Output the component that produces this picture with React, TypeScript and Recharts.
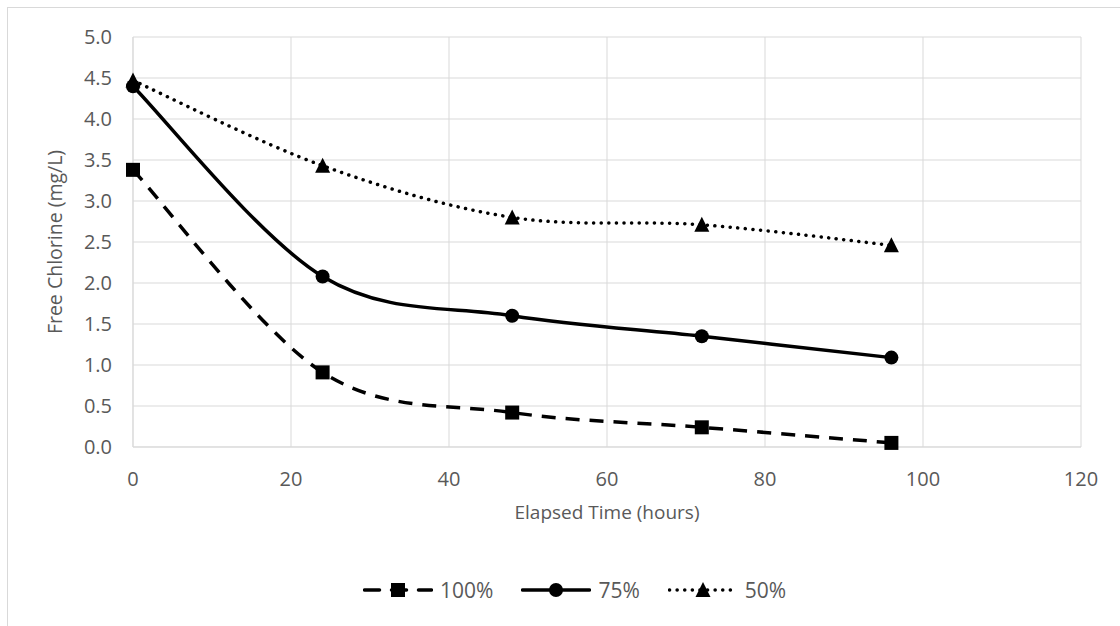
import { LineChart, Line, XAxis, YAxis, CartesianGrid } from 'recharts';

// ---------------- DATA ----------------
const hours = [0, 24, 48, 72, 96];
const chlorine100 = [3.38, 0.91, 0.42, 0.24, 0.05];
const chlorine75 = [4.4, 2.08, 1.6, 1.35, 1.09];
const chlorine50 = [4.47, 3.43, 2.8, 2.71, 2.46];
const xTicks = [0, 20, 40, 60, 80, 100, 120];
const yTicks = [0, 0.5, 1, 1.5, 2, 2.5, 3, 3.5, 4, 4.5, 5];

const rows = hours.map((t, i) => ({
  t,
  p100: chlorine100[i],
  p75: chlorine75[i],
  p50: chlorine50[i],
}));

const FONT = '"Open Sans", sans-serif';
const TEXT = '#595959';
const GRID = '#d9d9d9';

// Excel style smoothing: cubic bezier with Catmull-Rom tangents (1/6)
function excelSmooth(context: any) {
  let pts: number[][] = [];
  return {
    areaStart() {},
    areaEnd() {},
    lineStart() {
      pts = [];
    },
    point(x: number, y: number) {
      pts.push([+x, +y]);
    },
    lineEnd() {
      const n = pts.length;
      if (!n) return;
      context.moveTo(pts[0][0], pts[0][1]);
      for (let i = 0; i < n - 1; i++) {
        const p0 = pts[Math.max(i - 1, 0)];
        const p1 = pts[i];
        const p2 = pts[i + 1];
        const p3 = pts[Math.min(i + 2, n - 1)];
        context.bezierCurveTo(
          p1[0] + (p2[0] - p0[0]) / 6,
          p1[1] + (p2[1] - p0[1]) / 6,
          p2[0] - (p3[0] - p1[0]) / 6,
          p2[1] - (p3[1] - p1[1]) / 6,
          p2[0],
          p2[1],
        );
      }
    },
  };
}

// ---------------- MARKERS ----------------
const SquareDot = ({ cx, cy }: any) => <rect x={cx - 7} y={cy - 7} width={14} height={14} fill="#000" />;
const CircleDot = ({ cx, cy }: any) => <circle cx={cx} cy={cy} r={7} fill="#000" />;
const TriangleDot = ({ cx, cy }: any) => (
  <path d={`M${cx},${cy - 8}L${cx + 7.5},${cy + 7}L${cx - 7.5},${cy + 7}Z`} fill="#000" />
);

const DASH = '14 10';
const DOTS = '0.1 7.5';

const legendItems = [
  { name: '100%', dash: DASH, marker: 'square' },
  { name: '75%', dash: undefined, marker: 'circle' },
  { name: '50%', dash: DOTS, marker: 'triangle' },
];

function LegendSwatch({ dash, marker }: { dash?: string; marker: string }) {
  return (
    <svg width={70} height={20} style={{ display: 'block' }}>
      <line
        x1={1.5}
        y1={10}
        x2={68.5}
        y2={10}
        stroke="#000"
        strokeWidth={3.5}
        strokeDasharray={dash === DASH ? '15 12' : dash}
        strokeLinecap="round"
      />
      {marker === 'square' && <SquareDot cx={35} cy={10} />}
      {marker === 'circle' && <CircleDot cx={35} cy={10} />}
      {marker === 'triangle' && <TriangleDot cx={35} cy={10} />}
    </svg>
  );
}

export default function App() {
  return (
    <div
      style={{
        position: 'fixed',
        left: 0,
        top: 0,
        width: 1120,
        height: 626,
        overflow: 'hidden',
        background: '#fff',
        fontFamily: FONT,
      }}>
      {/* chart frame, cropped on the right and bottom */}
      <div
        style={{
          position: 'absolute',
          left: 7,
          top: 7,
          width: 1200,
          height: 700,
          border: `1px solid ${GRID}`,
        }}
      />
      <div style={{ position: 'absolute', left: 0, top: 0 }}>
        <LineChart width={1120} height={626} data={rows} margin={{ top: 37, right: 39, bottom: 99, left: 0 }}>
          <CartesianGrid stroke={GRID} strokeWidth={1} />
          <XAxis
            type="number"
            dataKey="t"
            domain={[0, 120]}
            ticks={xTicks}
            interval={0}
            height={80}
            tickSize={0}
            tickMargin={25}
            axisLine={{ stroke: GRID }}
            tick={{ fill: TEXT, fontSize: 20, fontFamily: FONT }}
            label={{
              value: 'Elapsed Time (hours)',
              position: 'insideBottom',
              offset: 8,
              fill: TEXT,
              fontSize: 19,
              fontFamily: FONT,
            }}
          />
          <YAxis
            type="number"
            domain={[0, 5]}
            ticks={yTicks}
            interval={0}
            width={133}
            tickSize={0}
            tickMargin={21}
            axisLine={{ stroke: GRID }}
            tick={{ fill: TEXT, fontSize: 20, fontFamily: FONT }}
            tickFormatter={(v: number) => v.toFixed(1)}
            label={{
              content: ({ viewBox }: any) => {
                const cx = 62;
                const cy = viewBox.y + viewBox.height / 2;
                return (
                  <text
                    x={cx}
                    y={cy}
                    transform={`rotate(-90 ${cx} ${cy})`}
                    textAnchor="middle"
                    fill={TEXT}
                    fontSize={19.5}
                    fontFamily={FONT}>
                    Free Chlorine (mg/L)
                  </text>
                );
              },
            }}
          />
          <Line
            type={excelSmooth as any}
            dataKey="p100"
            stroke="#000"
            strokeWidth={3.5}
            strokeDasharray={DASH}
            dot={<SquareDot />}
            activeDot={false}
            isAnimationActive={false}
          />
          <Line
            type={excelSmooth as any}
            dataKey="p75"
            stroke="#000"
            strokeWidth={3.5}
            dot={<CircleDot />}
            activeDot={false}
            isAnimationActive={false}
          />
          <Line
            type={excelSmooth as any}
            dataKey="p50"
            stroke="#000"
            strokeWidth={3.5}
            strokeDasharray={DOTS}
            strokeLinecap="round"
            dot={<TriangleDot />}
            activeDot={false}
            isAnimationActive={false}
          />
        </LineChart>
      </div>

      {/* LEGEND */}
      <div
        style={{
          position: 'absolute',
          left: 363,
          top: 580,
          display: 'flex',
          alignItems: 'center',
          gap: 28,
        }}>
        {legendItems.map((it) => (
          <div key={it.name} style={{ display: 'flex', alignItems: 'center', gap: 7 }}>
            <LegendSwatch dash={it.dash} marker={it.marker} />
            <span style={{ color: TEXT, fontSize: 21, lineHeight: '20px' }}>{it.name}</span>
          </div>
        ))}
      </div>
    </div>
  );
}
